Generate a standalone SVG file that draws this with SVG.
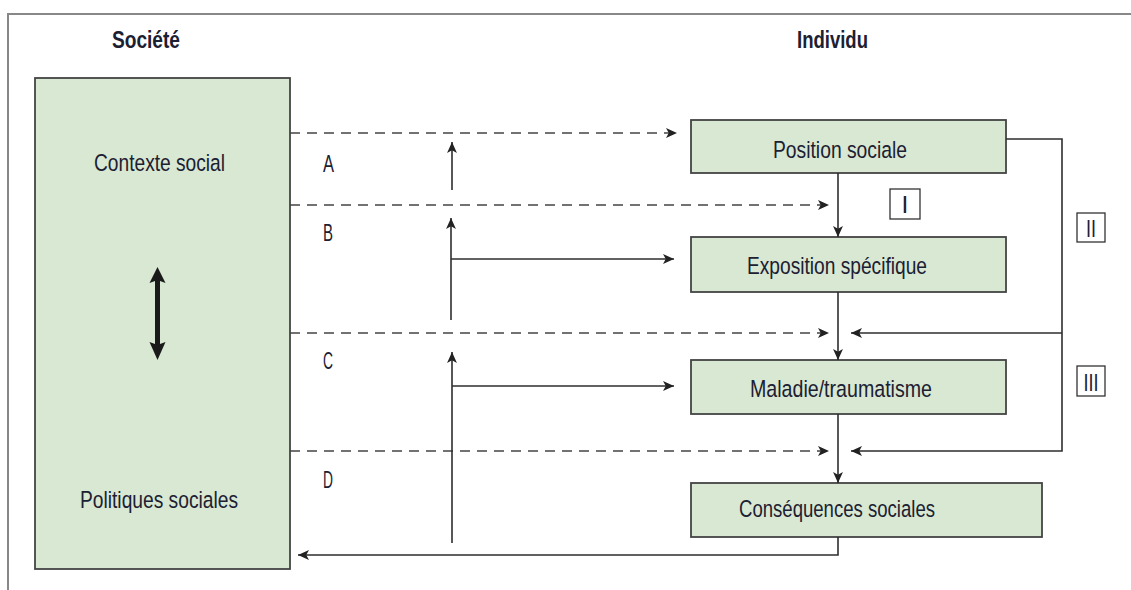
<svg xmlns="http://www.w3.org/2000/svg" width="1131" height="590" viewBox="0 0 1131 590">
<defs>
<marker id="ah" viewBox="0 0 10 10" refX="10" refY="5" markerWidth="11" markerHeight="11" markerUnits="userSpaceOnUse" orient="auto">
<path d="M0,0.5 L10,5 L0,9.5 L2.5,5 Z" fill="#222"/>
</marker>
</defs>
<style>
.t{font-family:"Liberation Sans",Arial,sans-serif;font-size:24.5px;fill:#1c2033;text-anchor:start}
.b{font-weight:bold}
.box{fill:#d8e8d2;stroke:#444;stroke-width:1.8}
.ln{fill:none;stroke:#2e2e2e;stroke-width:1.6}
.da{fill:none;stroke:#444;stroke-width:1.6;stroke-dasharray:10 7}
.rn{fill:#fff;stroke:#333;stroke-width:1.3}
.frame{fill:none;stroke:#888;stroke-width:2}
</style>
<rect width="1131" height="590" fill="#fff"/>
<path class="frame" d="M8,590 V14 H1131"/>

<text class="t b" x="112" y="48" textLength="68" lengthAdjust="spacingAndGlyphs">Société</text>
<text class="t b" x="797" y="48" textLength="71" lengthAdjust="spacingAndGlyphs">Individu</text>

<g id="societe">
<rect class="box" x="35" y="78" width="255" height="491"/>
<text class="t" x="94" y="171" textLength="131" lengthAdjust="spacingAndGlyphs">Contexte social</text>
<text class="t" x="80" y="508" textLength="158" lengthAdjust="spacingAndGlyphs">Politiques sociales</text>
<path d="M157.5,267 L165.5,283 L160,281 L160,344 L165.5,342 L157.5,360 L149.5,342 L155,344 L155,281 L149.5,283 Z" fill="#1a1a1a"/>
</g>

<g id="position">
<rect class="box" x="691" y="120" width="315" height="53"/>
<text class="t" x="773" y="158" textLength="134" lengthAdjust="spacingAndGlyphs">Position sociale</text>
</g>
<g id="exposition">
<rect class="box" x="691" y="237" width="315" height="55"/>
<text class="t" x="747" y="274" textLength="180" lengthAdjust="spacingAndGlyphs">Exposition spécifique</text>
</g>
<g id="maladie">
<rect class="box" x="691" y="360" width="315" height="54"/>
<text class="t" x="750" y="397" textLength="182" lengthAdjust="spacingAndGlyphs">Maladie/traumatisme</text>
</g>
<g id="consequences">
<rect class="box" x="691" y="483" width="351" height="54"/>
<text class="t" x="739" y="517" textLength="196" lengthAdjust="spacingAndGlyphs">Conséquences sociales</text>
</g>

<g id="labels">
<text class="t" x="323" y="172" textLength="11" lengthAdjust="spacingAndGlyphs">A</text>
<text class="t" x="323" y="241" textLength="10" lengthAdjust="spacingAndGlyphs">B</text>
<text class="t" x="323" y="369" textLength="10" lengthAdjust="spacingAndGlyphs">C</text>
<text class="t" x="323" y="488" textLength="10" lengthAdjust="spacingAndGlyphs">D</text>
</g>

<g id="roman">
<rect class="rn" x="890" y="189" width="30" height="30"/>
<text class="t" x="905" y="213" style="text-anchor:middle">I</text>
<rect class="rn" x="1077" y="213" width="28" height="29"/>
<text class="t" x="1091" y="237" style="text-anchor:middle" textLength="10" lengthAdjust="spacingAndGlyphs">II</text>
<rect class="rn" x="1077" y="366" width="28" height="30"/>
<text class="t" x="1091" y="391" style="text-anchor:middle" textLength="15" lengthAdjust="spacingAndGlyphs">III</text>
</g>

<g id="connectors">
<path class="da" d="M290,133 H677" marker-end="url(#ah)"/>
<path class="da" d="M290,205 H829" marker-end="url(#ah)"/>
<path class="da" d="M290,333 H829" marker-end="url(#ah)"/>
<path class="da" d="M290,451 H829" marker-end="url(#ah)"/>

<path class="ln" d="M452,190 V142" marker-end="url(#ah)"/>
<path class="ln" d="M451,320 V218" marker-end="url(#ah)"/>
<path class="ln" d="M451,259 H674" marker-end="url(#ah)"/>
<path class="ln" d="M452,543 V352" marker-end="url(#ah)"/>
<path class="ln" d="M452,386 H674" marker-end="url(#ah)"/>

<path class="ln" d="M838,173 V237" marker-end="url(#ah)"/>
<path class="ln" d="M838,292 V360" marker-end="url(#ah)"/>
<path class="ln" d="M838,414 V483" marker-end="url(#ah)"/>

<path class="ln" d="M1006,139 H1062 V451 H851" marker-end="url(#ah)"/>
<path class="ln" d="M1062,333 H851" marker-end="url(#ah)"/>

<path class="ln" d="M838,537 V555 H298" marker-end="url(#ah)"/>
</g>
</svg>
